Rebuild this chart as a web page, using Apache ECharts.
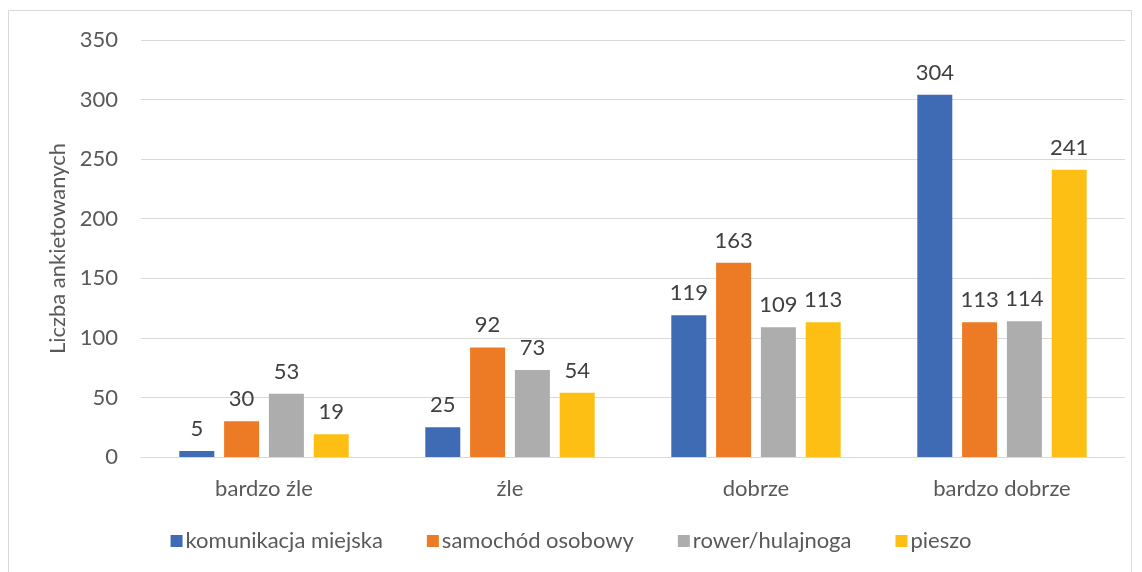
<!DOCTYPE html>
<html><head><meta charset="utf-8">
<script src="https://cdn.jsdelivr.net/npm/echarts@6/dist/echarts.min.js"></script>
<style>html,body{margin:0;padding:0;background:#fff}#c{width:1142px;height:572px}</style>
</head><body><div id="c"></div>
<script>
const categories = ['bardzo źle', 'źle', 'dobrze', 'bardzo dobrze'];
const seriesNames = ['komunikacja miejska', 'samochód osobowy', 'rower/hulajnoga', 'pieszo'];
const komunikacja = [5, 25, 119, 304];
const samochod = [30, 92, 163, 113];
const rower = [53, 73, 109, 114];
const pieszo = [19, 54, 113, 241];
const colors = ['#3F6BB4', '#ED7B25', '#ADADAD', '#FDBF13'];
const values = [komunikacja, samochod, rower, pieszo];
const font = 'Lato, "Open Sans", sans-serif';
const chart = echarts.init(document.getElementById('c'));
chart.setOption({
  animation: false,
  graphic: [{type: 'rect', shape: {x: 8.5, y: 10.5, width: 1123, height: 580}, style: {fill: 'none', stroke: '#D9D9D9', lineWidth: 1}, silent: true}],
  grid: {left: 141, right: 17, top: 40, bottom: 115},
  legend: {
    bottom: 15, left: 'center', itemWidth: 12, itemHeight: 12, itemGap: 44,
    icon: 'rect',
    textStyle: {fontFamily: font, fontSize: 22, color: '#595959', padding: [0, 0, 0, -2]},
    data: seriesNames
  },
  xAxis: {
    type: 'category', data: categories,
    axisLine: {lineStyle: {color: '#D9D9D9'}},
    axisTick: {show: false},
    axisLabel: {fontFamily: font, fontSize: 22, color: '#595959', margin: 21}
  },
  yAxis: {
    type: 'value', min: 0, max: 350, interval: 50,
    name: 'Liczba ankietowanych', nameLocation: 'middle', nameGap: 66, nameRotate: 90,
    nameTextStyle: {fontFamily: font, fontSize: 22, color: '#595959'},
    axisLine: {show: false}, axisTick: {show: false},
    axisLabel: {fontFamily: font, fontSize: 22, color: '#595959', margin: 23},
    splitLine: {lineStyle: {color: '#D9D9D9', width: 1}}
  },
  series: seriesNames.map((n, i) => ({
    name: n, type: 'bar', data: values[i], barWidth: 35, barGap: '28%',
    itemStyle: {color: colors[i]},
    label: {show: true, position: 'top', distance: 11, fontFamily: font, fontSize: 22, color: '#404040'}
  }))
});
</script></body></html>
